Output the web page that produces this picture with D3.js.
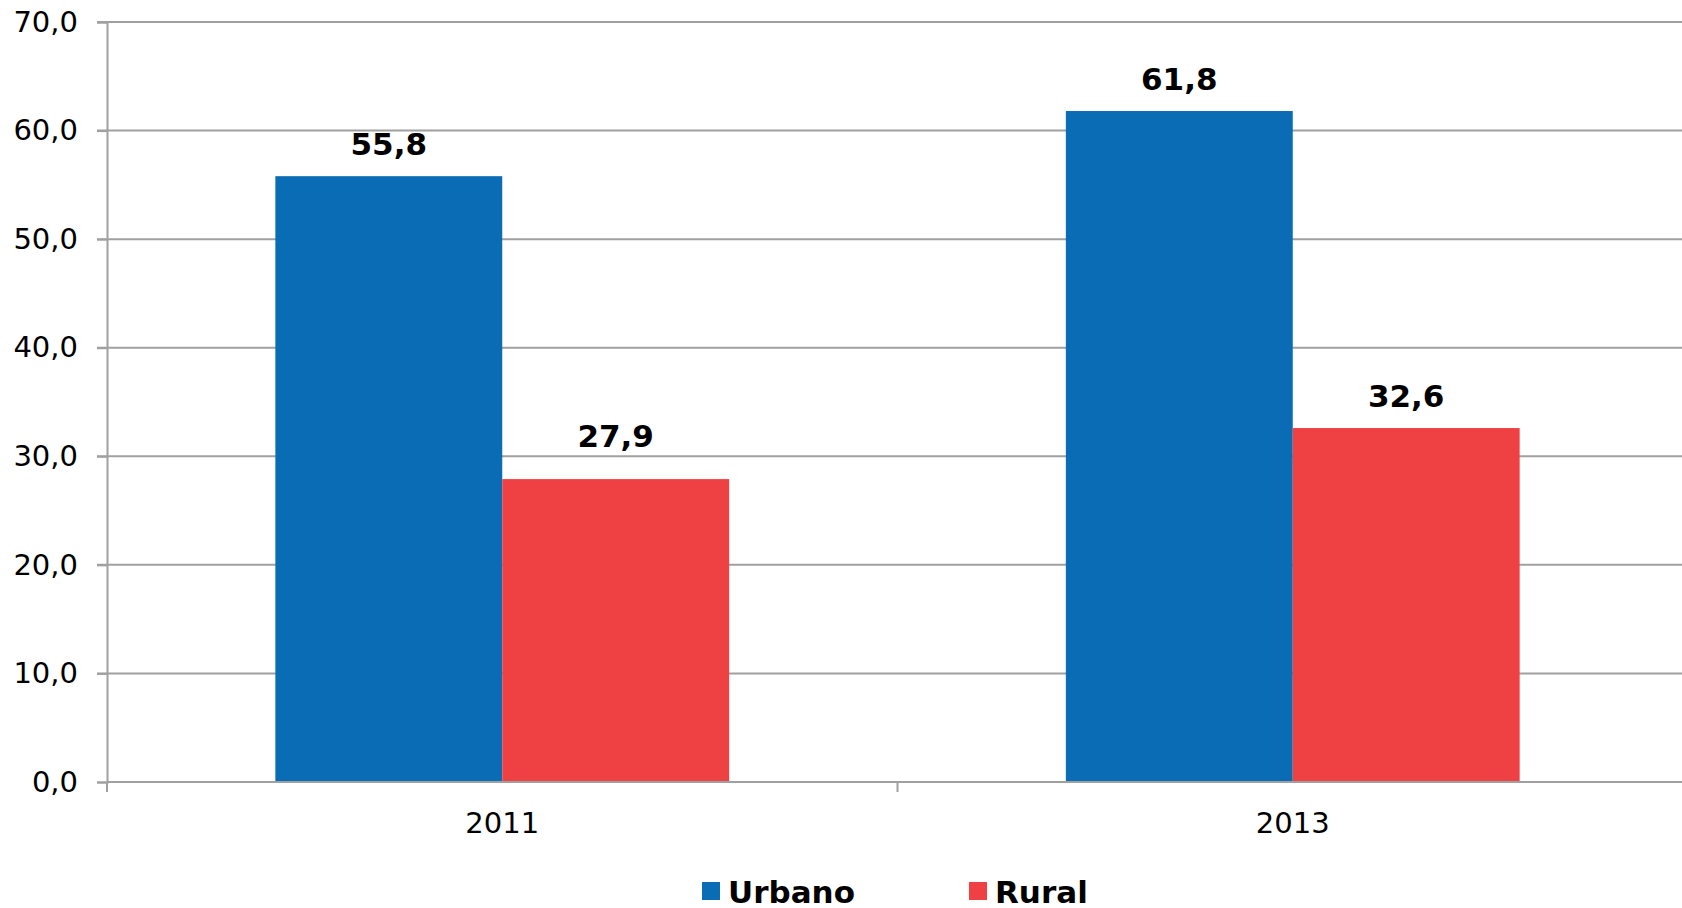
<!DOCTYPE html>
<html lang="es">
<head>
<meta charset="UTF-8">
<title>Urbano / Rural</title>
<style>
  html, body { margin: 0; padding: 0; background: #fff; }
  svg { display: block; font-family: "DejaVu Sans", Verdana, sans-serif; }
</style>
</head>
<body>
<svg id="chart"></svg>
<script src="https://cdn.jsdelivr.net/npm/d3@7"></script>
<script>
// datos
var years = ["2011", "2013"];
var series = ["Urbano", "Rural"];
var urbano = [55.8, 61.8];
var rural = [27.9, 32.6];
var yTicks = [0, 10, 20, 30, 40, 50, 60, 70];
var colors = ["#0a6cb5", "#ef4044"];

var width = 1682, height = 908;
// ojo: "top" es window.top, por eso otros nombres
// el area del grafico sigue un poco mas alla del borde derecho
var plotLeft = 107, plotRight = 1688, plotTop = 22, plotBottom = 782;

var svg = d3.select("#chart").attr("width", width).attr("height", height);

var y = d3.scaleLinear().domain([0, 70]).range([plotBottom, plotTop]);
var x0 = d3.scaleBand().domain(years).range([plotLeft, plotRight]).padding(0);
var x1 = d3.scaleBand().domain(series).range([0, x0.bandwidth()])
    .paddingInner(0).paddingOuter(0.742);

var fmt = function (v) { return d3.format(".1f")(v).replace(".", ","); };

// lineas de la grilla
svg.append("g").selectAll("line")
  .data(yTicks.filter(function (d) { return d > 0; }))
  .enter().append("line")
  .attr("x1", plotLeft - 10).attr("x2", plotRight)
  .attr("y1", function (d) { return y(d); })
  .attr("y2", function (d) { return y(d); })
  .attr("stroke", "#a0a0a0").attr("stroke-width", 2);

// barras
var rows = years.map(function (yr, i) { return { year: yr, values: [urbano[i], rural[i]] }; });

var groups = svg.append("g").selectAll("g")
  .data(rows).enter().append("g")
  .attr("transform", function (d) { return "translate(" + x0(d.year) + ",0)"; });

groups.selectAll("rect")
  .data(function (d) { return d.values.map(function (v, j) { return { s: series[j], v: v, j: j }; }); })
  .enter().append("rect")
  .attr("x", function (d) { return x1(d.s); })
  .attr("y", function (d) { return y(d.v); })
  .attr("width", x1.bandwidth())
  .attr("height", function (d) { return y(0) - y(d.v); })
  .attr("fill", function (d) { return colors[d.j]; });

// etiquetas de valor (la de Rural 2011 esta un poco mas arriba en el original)
groups.selectAll("text")
  .data(function (d, i) { return d.values.map(function (v, j) { return { s: series[j], v: v, i: i, j: j }; }); })
  .enter().append("text")
  .attr("x", function (d) { return x1(d.s) + x1.bandwidth() / 2; })
  .attr("y", function (d) { return y(d.v) - ((d.i === 0 && d.j === 1) ? 32 : 21); })
  .attr("text-anchor", "middle")
  .attr("font-size", 31).attr("font-weight", "bold").attr("fill", "#000")
  .text(function (d) { return fmt(d.v); });

// eje y
var yAxis = svg.append("g")
  .attr("transform", "translate(" + plotLeft + ",0)")
  .call(d3.axisLeft(y).tickValues(yTicks).tickFormat(fmt).tickSize(10).tickPadding(19));
yAxis.selectAll("path, line").attr("stroke", "#a0a0a0").attr("stroke-width", 2);
yAxis.selectAll("text").attr("font-size", 29).attr("fill", "#000")
  .attr("font-family", "DejaVu Sans, Verdana, sans-serif");

// eje x
var xAxis = svg.append("g")
  .attr("transform", "translate(0," + plotBottom + ")");
xAxis.append("line").attr("x1", plotLeft).attr("x2", plotRight)
  .attr("stroke", "#a0a0a0").attr("stroke-width", 2);
xAxis.selectAll("line.tk")
  .data(years.map(function (d) { return x0(d); }))
  .enter().append("line").attr("class", "tk")
  .attr("x1", function (d) { return d; }).attr("x2", function (d) { return d; })
  .attr("y1", 0).attr("y2", 10)
  .attr("stroke", "#a0a0a0").attr("stroke-width", 2);
xAxis.selectAll("text")
  .data(years).enter().append("text")
  .attr("x", function (d) { return x0(d) + x0.bandwidth() / 2; })
  .attr("y", 51)
  .attr("text-anchor", "middle")
  .attr("font-size", 29).attr("fill", "#000")
  .text(function (d) { return d; });

// leyenda
var legendX = [702, 969];
var legend = svg.append("g").selectAll("g")
  .data(series).enter().append("g")
  .attr("transform", function (d, i) { return "translate(" + legendX[i] + ",882)"; });
legend.append("rect")
  .attr("width", 18).attr("height", 18)
  .attr("fill", function (d, i) { return colors[i]; });
legend.append("text")
  .attr("x", 26).attr("y", 21)
  .attr("font-size", 31).attr("font-weight", "bold").attr("fill", "#000")
  .text(function (d) { return d; });
</script>
</body>
</html>
